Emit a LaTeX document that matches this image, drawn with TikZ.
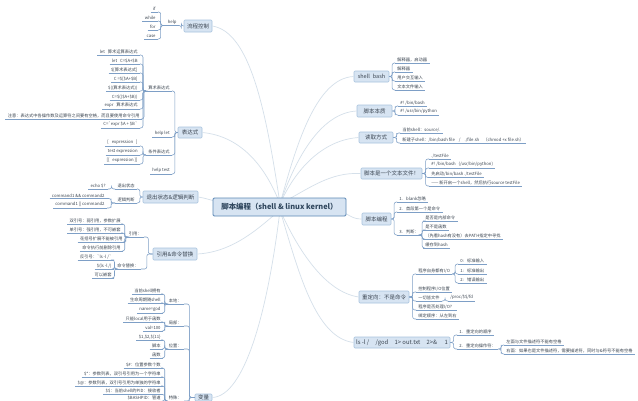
\documentclass[tikz,border=0pt]{standalone}
\usepackage{fontspec}
\setmainfont{Noto Sans CJK SC}
\usetikzlibrary{calc}
\definecolor{mainfill}{HTML}{D7E4F2}
\definecolor{mainedge}{HTML}{5C88B5}
\definecolor{boxedge}{HTML}{A9C3DE}
\definecolor{curve}{HTML}{D5E0EA}
\definecolor{uline}{HTML}{7E9FC6}
\definecolor{txt}{HTML}{3A4450}
\tikzset{
  leaf/.style={inner xsep=2.2pt,inner ysep=.9pt,font=\fontsize{4.25}{5}\selectfont,text=txt},
  conn/.style={draw=uline,line width=.55pt,rounded corners=2.2pt},
  underl/.style={draw=uline,line width=.55pt},
  topic/.style={draw=boxedge,line width=.6pt,fill=mainfill,rounded corners=1pt,text=txt,inner sep=0pt,font=\fontsize{5.5}{6.5}\selectfont},
  rootbox/.style={draw=mainedge,line width=.9pt,fill=mainfill,rounded corners=1.2pt,text=black!35!mainedge!80!black,inner sep=0pt,font=\fontsize{7.4}{9}\selectfont\bfseries},
  arc/.style={draw=curve,line width=.7pt}
}
% left leaf: name, parent point, right x, underline y, text
\newcommand{\lfL}[5]{%
  \node[leaf,anchor=south east] (#1) at (#3,#4) {#5};
  \draw[underl] (#1.south west) -- (#1.south east);
  \draw[conn] (#2) -| ($(#2)!.5!(#1.south east)$) |- (#1.south east);}
% right leaf
\newcommand{\lfR}[5]{%
  \node[leaf,anchor=south west] (#1) at (#3,#4) {#5};
  \draw[underl] (#1.south west) -- (#1.south east);
  \draw[conn] (#2) -| ($(#2)!.5!(#1.south west)$) |- (#1.south west);}
% main topic: name, x1, y1, x2, y2, text
\newcommand{\topicbox}[6]{%
  \node[topic,minimum width=#4pt-#2pt,minimum height=#5pt-#3pt] (#1) at ({(#2+#4)/2},{(#3+#5)/2}) {#6};}
\begin{document}
\begin{tikzpicture}[x=1pt,y=-1pt]
\useasboundingbox (0,0) rectangle (638,400);
\clip (0,0) rectangle (638,400);
\fill[white] (0,0) rectangle (638,400);
\coordinate (up) at (280,204);
\coordinate (dn) at (280,210);
% main topics
\topicbox{flow}{184}{20}{212}{32}{流程控制}
\topicbox{expr}{178}{127}{202}{138}{表达式}
\topicbox{exitst}{143}{191}{198}{203}{退出状态\&逻辑判断}
\topicbox{quote}{153}{248}{197}{260}{引用\&命令替换}
\topicbox{vars}{195}{394}{212}{401}{变量}
\topicbox{bash}{354}{71}{389}{82}{shell\hspace{3pt}bash}
\topicbox{nature}{357}{105}{392}{117}{脚本本质}
\topicbox{read}{359}{132}{393}{143}{读取方式}
\topicbox{textf}{361}{168}{422}{179}{脚本是一个文本文件！}
\topicbox{prog}{362}{213}{391}{225}{脚本编程}
\topicbox{redir}{359}{291}{409}{303}{重定向：不是命令}
\node[topic,minimum width=96pt,minimum height=11pt,font=\fontsize{5.9}{7}\selectfont] (lsbox) at (402,342.5) {ls -l /\hspace{5pt} /god\hspace{5pt} 1> out.txt\hspace{5pt} 2>\&\hspace{6pt} 1};
% curves from the central topic
\draw[arc] (flow.east) .. controls (250,32) and (266,110) .. (up);
\draw[arc] (expr.east) .. controls (240,136) and (265,165) .. (up);
\draw[arc] (vars.east) .. controls (245,396) and (268,310) .. (dn);
\draw[arc] (quote.east) .. controls (235,252) and (262,225) .. (dn);
\draw[arc] (exitst.east) .. controls (205,198) and (210,200) .. (230,205);
\draw[arc] (bash.west) .. controls (315,78) and (295,150) .. (up);
\draw[arc] (nature.west) .. controls (320,113) and (295,160) .. (up);
\draw[arc] (read.west) .. controls (322,140) and (295,170) .. (up);
\draw[arc] (textf.west) .. controls (330,172) and (310,188) .. (up);
\draw[arc] (prog.west) .. controls (352,219) and (350,215) .. (335,208);
\draw[arc] (redir.west) .. controls (325,292) and (298,250) .. (dn);
\draw[arc] (lsbox.west) .. controls (315,338) and (298,270) .. (dn);
\node[rootbox,minimum width=133pt,minimum height=18pt] (root) at (279.5,207) {脚本编程（shell \& linux kernel）};
% 流程控制
\lfL{help}{flow.west}{179}{25.5}{\hspace{2pt}help\hspace{1pt}}
\lfL{if}{help.south west}{158}{12}{if}
\lfL{while}{help.south west}{158}{21}{while}
\lfL{for}{help.south west}{158}{30}{for}
\lfL{case}{help.south west}{158}{39}{case}
% 表达式
\lfL{arith}{expr.west}{172}{91}{算术表达式}
\lfL{helplet}{expr.west}{172}{137}{help let}
\lfL{cond}{expr.west}{172}{155}{条件表达式}
\lfL{helptest}{expr.west}{172}{174}{help test}
\lfL{a1}{arith.south west}{140}{55}{let\hspace{2pt} 算术运算表达式}
\lfL{a2}{arith.south west}{140}{64}{let\hspace{2pt} C=\$A+\$B}
\lfL{a3}{arith.south west}{140}{73}{\$[算术表达式]}
\lfL{a4}{arith.south west}{140}{82}{C =\$[\$A+\$B]}
\lfL{a5}{arith.south west}{140}{91}{\$((算术表达式))}
\lfL{a6}{arith.south west}{140}{100}{C=\$((\$A+\$B))}
\lfL{a7}{arith.south west}{140}{109}{expr\hspace{2pt} 算术表达式}
\lfL{a8}{arith.south west}{142}{119}{注意：表达式中各操作数及运算符之间要有空格，而且要使用命令引用}
\lfL{a9}{arith.south west}{140}{128}{C=\textasciigrave expr \$A + \$B\textasciigrave}
\lfL{c1}{cond.south west}{140}{146}{[\hspace{2pt} expression\hspace{2pt} ]}
\lfL{c2}{cond.south west}{140}{155}{test expression}
\lfL{c3}{cond.south west}{140}{164}{[[\hspace{2pt} expression ]]}
% 退出状态
\lfL{st1}{exitst.west}{137}{189}{退出状态}
\lfL{st2}{exitst.west}{137}{203}{逻辑判断}
\lfL{st1a}{st1.south west}{108}{189}{echo \$?}
\lfL{st2a}{st2.south west}{107}{198.5}{command1 \&\& command2}
\lfL{st2b}{st2.south west}{107}{208}{command1 || command2}
% 引用
\lfL{q1}{quote.west}{144}{237}{引用：}
\lfL{q2}{quote.west}{141}{269}{命令替换：}
\lfL{q1a}{q1.south west}{123}{224}{双引号：弱引用，参数扩展}
\lfL{q1b}{q1.south west}{123}{233}{单引号：强引用，不可嵌套}
\lfL{q1c}{q1.south west}{125}{242}{花括号扩展不能被引用}
\lfL{q1d}{q1.south west}{123}{251}{命令执行前删除引用}
\lfL{q2a}{q2.south west}{114}{260}{反引号：\textasciigrave ls -l /\textasciigrave}
\lfL{q2b}{q2.south west}{114}{269}{\$(ls -l /)}
\lfL{q2c}{q2.south west}{114}{278}{可以嵌套}
% 变量
\lfL{v1}{vars.west}{184}{304}{本地：}
\lfL{v2}{vars.west}{184}{326}{局部：}
\lfL{v3}{vars.west}{184}{349}{位置：}
\lfL{v4}{vars.west}{184}{401}{特殊：}
\lfL{v1a}{v1.south west}{163}{294}{当前shell拥有}
\lfL{v1b}{v1.south west}{163}{303}{生命周期随shell}
\lfL{v1c}{v1.south west}{163}{313}{name=god}
\lfL{v2a}{v2.south west}{163}{322}{只能local用于函数}
\lfL{v2b}{v2.south west}{163}{331}{val=100}
\lfL{v3a}{v3.south west}{163}{340}{\$1,\$2,\$\{11\}}
\lfL{v3b}{v3.south west}{163}{349}{脚本}
\lfL{v3c}{v3.south west}{163}{358}{函数}
\lfL{v4a}{v4.south west}{163}{368}{\$\#：位置参数个数}
\lfL{v4b}{v4.south west}{163}{377}{\$*：参数列表，双引号引用为一个字符串}
\lfL{v4c}{v4.south west}{163}{386}{\$@：参数列表，双引号引用为单独的字符串}
\lfL{v4d}{v4.south west}{163}{394.5}{\$\$：当前shell的PID：接收者}
\lfL{v4e}{v4.south west}{163}{401}{\$BASHPID：管道}
% shell bash
\lfR{b1}{bash.east}{395}{63}{解释器，启动器}
\lfR{b2}{bash.east}{395}{72}{解释器}
\lfR{b3}{bash.east}{395}{81}{用户交互输入}
\lfR{b4}{bash.east}{395}{90}{文本文件输入}
% 脚本本质
\lfR{n1}{nature.east}{398}{106}{\#! /bin/bash}
\lfR{n2}{nature.east}{398}{115}{\#! /usr/bin/python}
% 读取方式
\lfR{r1}{read.east}{400}{133}{当前shell：source/.}
\lfR{r2}{read.east}{400}{143}{新建子shell：/bin/bash file\hspace{3pt} /\hspace{3pt} ./file.sh\hspace{3pt} （chmod +x file.sh）}
% 文本文件
\lfR{t1}{textf.east}{429}{159}{./testFile}
\lfR{t2}{textf.east}{429}{168}{\#! /bin/bash\hspace{2pt} (/usr/bin/python)}
\lfR{t3}{textf.east}{429}{177.5}{先启动/bin/bash ./testFile}
\lfR{t4}{textf.east}{429}{186}{—— 新开启一个shell，然后执行source testFile}
% 脚本编程
\lfR{p1}{prog.east}{397}{202}{1.\hspace{2pt} blank忽略}
\lfR{p2}{prog.east}{397}{212}{2.\hspace{2pt} 首段第一个是命令}
\lfR{p3}{prog.east}{397}{235}{3.\hspace{2pt} 判断：}
\lfR{p3a}{p3.south east}{423}{221}{是否是内部命令}
\lfR{p3b}{p3.south east}{423}{230}{是不是函数}
\lfR{p3c}{p3.south east}{423}{239}{（先看hash有没有）去PATH指定中寻找}
\lfR{p3d}{p3.south east}{423}{248}{缓存到hash}
% 重定向
\lfR{d1}{redir.east}{416}{274}{程序自身都有I/O}
\lfR{d2}{redir.east}{416}{292}{控制程序I/O位置}
\lfR{d3}{redir.east}{416}{301}{一切皆文件}
\lfR{d4}{redir.east}{416}{310}{程序是否处理I/O？}
\lfR{d5}{redir.east}{416}{319}{绑定顺序：从左到右}
\lfR{d1a}{d1.south east}{458}{264}{0:\hspace{2pt} 标准输入}
\lfR{d1b}{d1.south east}{458}{274}{1:\hspace{2pt} 标准输出}
\lfR{d1c}{d1.south east}{458}{283}{2:\hspace{2pt} 错误输出}
\lfR{d3a}{d3.south east}{448}{301}{/proc/\$\$/fd}
% ls
\lfR{l1}{lsbox.east}{457}{335}{1.\hspace{2pt} 重定向的顺序}
\lfR{l2}{lsbox.east}{457}{349}{2.\hspace{2pt} 重定向操作符：}
\lfR{l2a}{l2.south east}{504}{345}{左面与文件描述符不能有空格}
\lfR{l2b}{l2.south east}{504}{354}{右面：如果也是文件描述符，需要描述符，同时与\&符号不能有空格}
\end{tikzpicture}
\end{document}
